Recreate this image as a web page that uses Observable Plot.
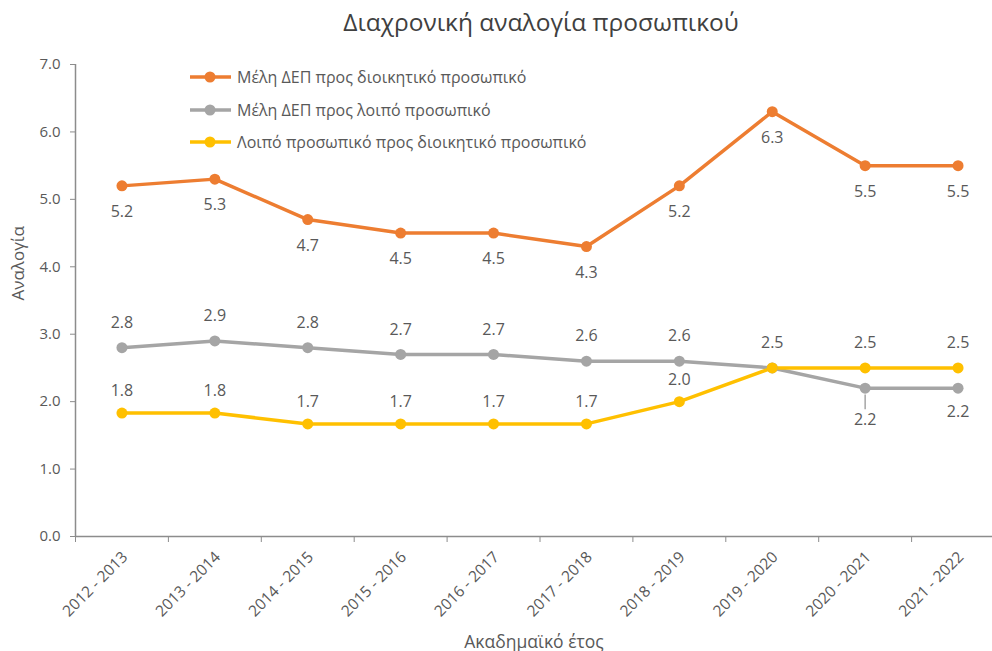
<!DOCTYPE html>
<html><head><meta charset="utf-8">
<script src="https://cdn.jsdelivr.net/npm/d3@7"></script>
<script src="https://cdn.jsdelivr.net/npm/@observablehq/plot@0.6"></script>
<style>
body{margin:0;background:#fff;font-family:"Open Sans",sans-serif;}
#wrap{position:relative;width:992px;height:651px;overflow:hidden;}
#title{position:absolute;left:0;width:1082px;top:5px;text-align:center;font-size:24.5px;line-height:34px;color:#404040;}
#legend{position:absolute;left:190px;top:61px;font-size:16px;color:#595959;}
.row{height:32.5px;display:flex;align-items:center;line-height:20px;}
.row svg{margin-right:6px;display:block;}
</style></head>
<body><div id="wrap"><div id="title">Διαχρονική αναλογία προσωπικού</div><div id="legend"></div></div>
<script>
const categories = ["2012 - 2013","2013 - 2014","2014 - 2015","2015 - 2016","2016 - 2017","2017 - 2018","2018 - 2019","2019 - 2020","2020 - 2021","2021 - 2022"];
const seriesNames = ["Μέλη ΔΕΠ προς διοικητικό προσωπικό","Μέλη ΔΕΠ προς λοιπό προσωπικό","Λοιπό προσωπικό προς διοικητικό προσωπικό"];
const faculty_admin = [5.2,5.3,4.7,4.5,4.5,4.3,5.2,6.3,5.5,5.5];
const faculty_other = [2.8,2.9,2.8,2.7,2.7,2.6,2.6,2.5,2.2,2.2];
const other_admin   = [1.83,1.83,1.67,1.67,1.67,1.67,2.0,2.5,2.5,2.5];
const yTicks = [0,1,2,3,4,5,6,7];
const colors = ["#ED7D31","#A5A5A5","#FFC000"];

const all = [faculty_admin, faculty_other, other_admin];
const rows = [];
all.forEach((arr,s)=>arr.forEach((v,i)=>rows.push({s, i, v, name: seriesNames[s]})));
const txt = "#595959";
const axisColor = "#8c8c8c";
const boundaries = d3.range(categories.length+1).map(i=>i-0.5);
const fmt = d=>d.v.toFixed(1);
const lblStyle = {x: "i", y: "v", text: fmt, fill: txt, fontSize: 16};

const chart = Plot.plot({
  width: 992, height: 651,
  marginLeft: 75, marginTop: 64, marginBottom: 115, marginRight: 0,
  style: {fontFamily: '"Open Sans",sans-serif', fontSize: "15px", color: txt, background: "transparent"},
  x: {type: "linear", domain: [-0.5, categories.length-0.5], range: [75, 1004]},
  y: {domain: [0,7], range: [536, 64]},
  marks: [
    Plot.ruleY([0], {stroke: axisColor, strokeWidth: 1.5}),
    Plot.ruleX([-0.5], {stroke: axisColor, strokeWidth: 1.5}),
    Plot.axisY({ticks: yTicks, tickFormat: d=>d.toFixed(1), tickSize: 5, tickPadding: 10, stroke: axisColor, fill: txt, label: null, fontSize: 15}),
    Plot.axisX({ticks: boundaries, tickFormat: ()=>"", tickSize: 6, stroke: axisColor, label: null}),
    Plot.axisX({ticks: d3.range(categories.length), tickFormat: i=>categories[i], tickSize: 0, tickPadding: 18, tickRotate: -45, fill: txt, label: null, fontSize: 15.5, dx: 3}),
    Plot.text(["Αναλογία"], {frameAnchor: "left", dx: -57, rotate: -90, fill: txt, fontSize: 17}),
    Plot.text(["Ακαδημαϊκό έτος"], {frameAnchor: "bottom", dy: 111, fill: txt, fontSize: 17.5}),
    Plot.line(rows, {x: "i", y: "v", z: "s", stroke: d=>colors[d.s], strokeWidth: 3.5}),
    Plot.dot(rows, {x: "i", y: "v", fill: d=>colors[d.s], r: 5.5, stroke: "none"}),
    Plot.ruleX(rows.filter(d=>d.s===1 && d.i===8), {x: "i", y1: d=>d.v-0.1, y2: d=>d.v-0.32, stroke: "#A5A5A5", strokeWidth: 1.5}),
    Plot.text(rows.filter(d=>d.s===0), {...lblStyle, dy: 26}),
    // gray 2019-2020 label sits exactly under the yellow "2.5" label in the reference, so only one is drawn
    Plot.text(rows.filter(d=>d.s===1 && d.i<7), {...lblStyle, dy: -25}),
    Plot.text(rows.filter(d=>d.s===1 && d.i===8), {...lblStyle, dy: 32}),
    Plot.text(rows.filter(d=>d.s===1 && d.i===9), {...lblStyle, dy: 24}),
    Plot.text(rows.filter(d=>d.s===2 && d.i<7), {...lblStyle, dy: -22}),
    Plot.text(rows.filter(d=>d.s===2 && d.i>=7), {...lblStyle, dy: -25})
  ]
});
chart.style.position = "absolute"; chart.style.left = "0"; chart.style.top = "0";
document.getElementById("wrap").appendChild(chart);
document.getElementById("title").style.zIndex = 2;
const leg = document.getElementById("legend");
leg.style.zIndex = 2;
seriesNames.forEach((n,s)=>{
  const r = document.createElement("div"); r.className = "row";
  r.innerHTML = `<svg width="41" height="12"><line x1="0" x2="41" y1="6" y2="6" stroke="${colors[s]}" stroke-width="3.5"/><circle cx="20" cy="6" r="5.5" fill="${colors[s]}"/></svg><span>${n}</span>`;
  leg.appendChild(r);
});
</script></body></html>
